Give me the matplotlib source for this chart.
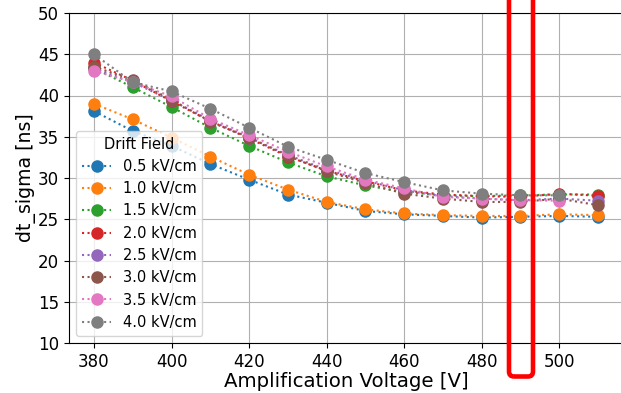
import matplotlib
matplotlib.use("Agg")
import matplotlib.pyplot as plt
from matplotlib.patches import FancyBboxPatch
from matplotlib.transforms import IdentityTransform

voltages = [380, 390, 400, 410, 420, 430, 440, 450, 460, 470, 480, 490, 500, 510]
field_labels = ["0.5 kV/cm", "1.0 kV/cm", "1.5 kV/cm", "2.0 kV/cm",
                "2.5 kV/cm", "3.0 kV/cm", "3.5 kV/cm", "4.0 kV/cm"]

s_05 = [38.1, 35.7, 33.9, 31.7, 29.8, 28.0, 27.0, 26.0, 25.6, 25.4, 25.2, 25.3, 25.4, 25.3]
s_10 = [39.0, 37.1, 34.9, 32.6, 30.4, 28.6, 27.1, 26.2, 25.7, 25.5, 25.4, 25.4, 25.6, 25.5]
s_15 = [43.3, 41.0, 38.6, 36.1, 33.9, 31.9, 30.2, 29.1, 28.3, 27.9, 27.8, 27.9, 28.0, 28.0]
s_20 = [44.0, 41.8, 39.3, 36.9, 34.8, 32.6, 30.9, 29.6, 28.5, 28.0, 27.8, 27.7, 28.1, 27.85]
s_25 = [43.3, 41.6, 39.4, 37.0, 34.9, 32.8, 31.0, 29.7, 28.5, 27.8, 27.5, 27.3, 27.5, 27.25]
s_30 = [43.5, 41.9, 39.5, 36.8, 34.9, 32.7, 30.8, 29.4, 28.1, 27.5, 27.1, 27.1, 27.5, 26.7]
# 3.5 and 4.0 kV/cm have no point at 510 V
s_35 = [43.0, 41.6, 39.9, 37.2, 35.2, 33.2, 31.4, 29.8, 28.75, 27.7, 27.5, 27.3, 27.25]
s_40 = [45.0, 41.6, 40.5, 38.4, 36.1, 33.8, 32.2, 30.6, 29.5, 28.5, 28.1, 27.9, 27.9]

series = [s_05, s_10, s_15, s_20, s_25, s_30, s_35, s_40]

fig = plt.figure(figsize=(6.21, 3.93), dpi=100)
ax = fig.add_axes([68.8 / 621, 50 / 393, (623.2 - 68.8) / 621, 330 / 393])

for vals, lab in zip(series, field_labels):
    ax.plot(voltages[:len(vals)], vals, linestyle=":", marker="o", markersize=8, label=lab)

ax.set_xlim(373.5, 516.5)
ax.set_ylim(10, 50)
ax.set_xticks([380, 400, 420, 440, 460, 480, 500])
ax.set_yticks([10, 15, 20, 25, 30, 35, 40, 45, 50])
ax.tick_params(labelsize=12)
ax.grid(True)
ax.set_xlabel("Amplification Voltage [V]", fontsize=14.2, labelpad=1)
ax.set_ylabel("dt_sigma [ns]", fontsize=13.6, labelpad=1.5)
ax.spines["right"].set_visible(False)

leg = ax.legend(title="Drift Field", loc="lower left", fontsize=10.5, title_fontsize=10.5)

rect = FancyBboxPatch((509, 16.5), 24, 400, boxstyle="round,pad=0,rounding_size=5",
                      transform=IdentityTransform(), fill=False, edgecolor="red",
                      linewidth=3.3, clip_on=False)
fig.patches.append(rect)

fig.savefig("out.png", dpi=100)
